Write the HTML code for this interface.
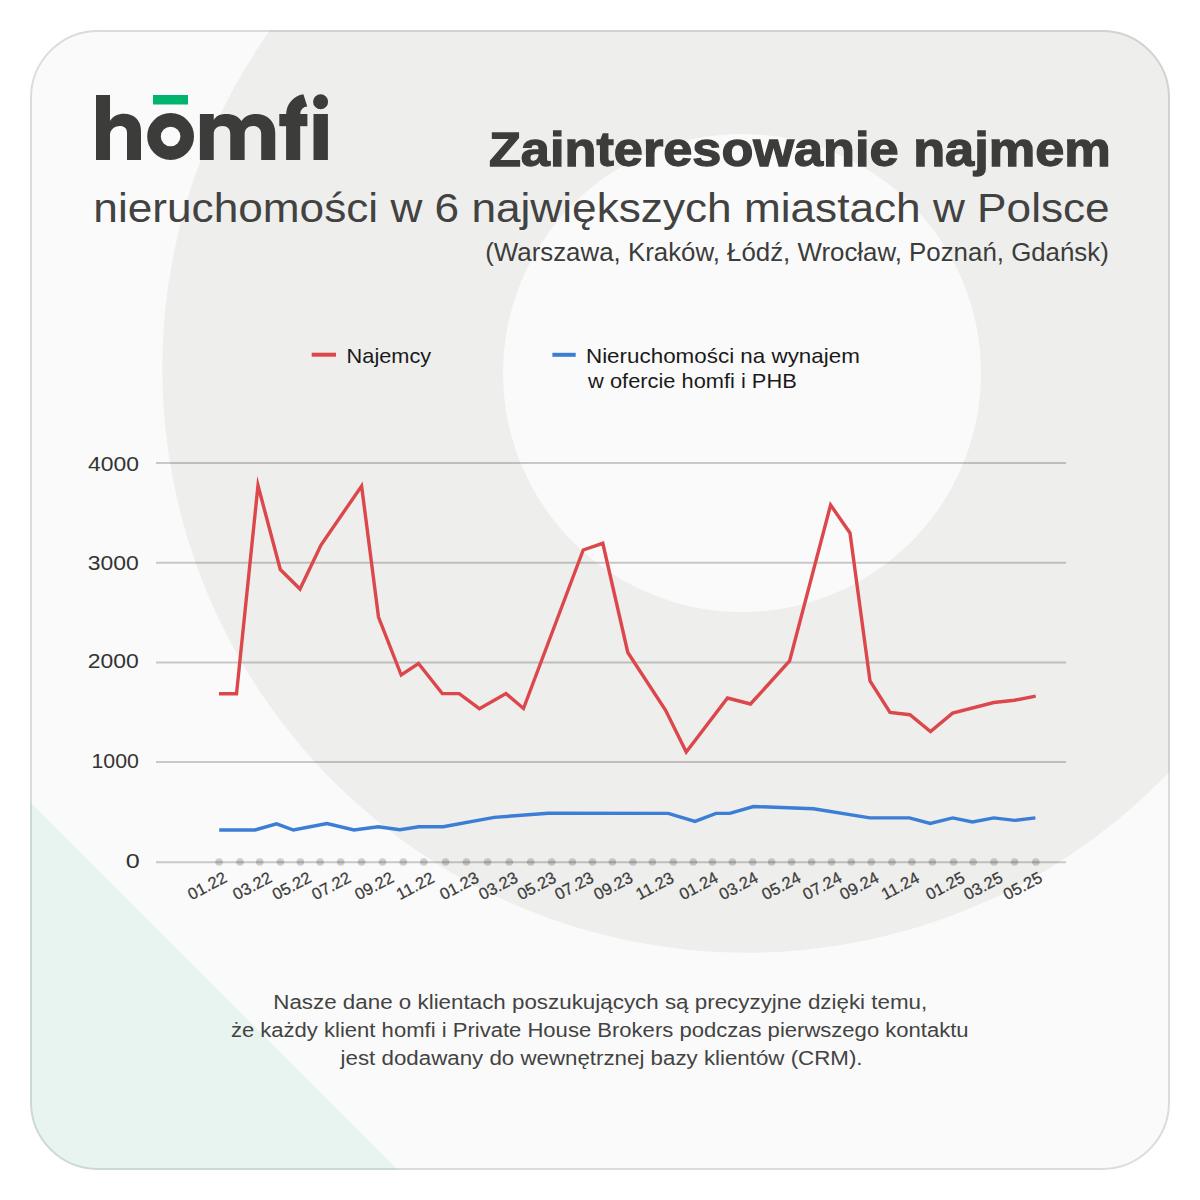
<!DOCTYPE html>
<html><head><meta charset="utf-8">
<style>
html,body{margin:0;padding:0;background:#fff;width:1200px;height:1200px;overflow:hidden}
svg{display:block}
text{font-family:"Liberation Sans",sans-serif}
</style></head><body>
<svg width="1200" height="1200" viewBox="0 0 1200 1200">
<defs>
<clipPath id="card"><rect x="30" y="30" width="1140" height="1140" rx="68" ry="68"/></clipPath>
</defs>
<rect width="1200" height="1200" fill="#ffffff"/>
<g clip-path="url(#card)">
<rect x="30" y="30" width="1140" height="1140" fill="#fafafa"/>
<circle cx="746.7" cy="368.3" r="584.4" fill="#eeeeed"/>
<circle cx="742" cy="373" r="239" fill="#fafafa"/>
</g>
<rect x="31" y="31" width="1138" height="1138" rx="67" ry="67" fill="none" stroke="#000" stroke-opacity="0.12" stroke-width="2"/>
<g clip-path="url(#card)"><polygon points="30,802 30,1170 398,1170" fill="#32bf90" fill-opacity="0.085"/></g>

<!-- logo -->
<g fill="#3c3c3b">
<path d="M96,95 H110 V121 C113,116 118,113.8 124,113.8 C134,113.8 141,120 141,131 V160 H127 V133 C127,128 124,126 120,126 C114,126 110,130 110,135 V160 H96 Z"/>
<circle cx="170.6" cy="136.5" r="16.6" fill="none" stroke="#3c3c3b" stroke-width="13.6"/>
<path d="M199.9,114 H213.75 V120 C216,116 220,114 226,114 C233,114 238.5,116.5 241.5,121 C244.5,116.5 249.5,114 256,114 C267,114 275.25,121 275.25,133 V160 H261.2 V134 C261.2,129 258,126 253,126 C248,126 244.65,129 244.65,134 V160 H230.25 V134 C230.25,129 227.5,126 222.5,126 C217,126 213.75,129 213.75,134 V160 H199.9 Z"/>
<path d="M286.1,160 V114 A20.5,20.5 0 0 1 303.4,94.2 L307.3,106.6 A7.2,7.2 0 0 0 300.2,114 V160 Z"/>
<rect x="279.3" y="114" width="28.1" height="12.2"/>
<circle cx="320.6" cy="101.7" r="7.5"/>
<rect x="313.5" y="114" width="14.4" height="46"/>
</g>
<rect x="153" y="95" width="35" height="9.5" fill="#00b46e"/>

<!-- titles -->
<text x="488.93" y="166" font-size="49" fill="#3c3c3b" textLength="621.82" lengthAdjust="spacingAndGlyphs" font-weight="bold" stroke="#3c3c3b" stroke-width="1.3">Zainteresowanie najmem</text>
<text x="93.39" y="222" font-size="40" fill="#424241" textLength="1016.31" lengthAdjust="spacingAndGlyphs" >nieruchomości w 6 największych miastach w Polsce</text>
<text x="485.23" y="261" font-size="25" fill="#3c3c3b" textLength="623.62" lengthAdjust="spacingAndGlyphs" >(Warszawa, Kraków, Łódź, Wrocław, Poznań, Gdańsk)</text>

<!-- legend -->
<rect x="311.7" y="352.7" width="24.3" height="4" fill="#dc474b"/>
<text x="346.63" y="363" font-size="21" fill="#1a1a1a" textLength="84.55" lengthAdjust="spacingAndGlyphs" >Najemcy</text>
<rect x="552.4" y="352.8" width="23.3" height="4" fill="#3c7dd6"/>
<text x="585.97" y="363" font-size="21" fill="#1a1a1a" textLength="273.93" lengthAdjust="spacingAndGlyphs" >Nieruchomości na wynajem</text>
<text x="588.1" y="387.7" font-size="21" fill="#1a1a1a" textLength="208.66" lengthAdjust="spacingAndGlyphs" >w ofercie homfi i PHB</text>

<!-- gridlines -->
<g stroke="#000" stroke-opacity="0.2" stroke-width="2">
<line x1="156" y1="463" x2="1066" y2="463"/>
<line x1="156" y1="562.8" x2="1066" y2="562.8"/>
<line x1="156" y1="662.6" x2="1066" y2="662.6"/>
<line x1="156" y1="761.9" x2="1066" y2="761.9"/>
<line x1="156" y1="862.2" x2="1066" y2="862.2"/>
</g>
<g fill="#000" fill-opacity="0.18"><circle cx="219.1" cy="862" r="3.8"/><circle cx="240" cy="862" r="3.8"/><circle cx="259.7" cy="862" r="3.8"/><circle cx="280.4" cy="862" r="3.8"/><circle cx="300.4" cy="862" r="3.8"/><circle cx="320.1" cy="862" r="3.8"/><circle cx="340.7" cy="862" r="3.8"/><circle cx="361.6" cy="862" r="3.8"/><circle cx="382.5" cy="862" r="3.8"/><circle cx="403.3" cy="862" r="3.8"/><circle cx="423.8" cy="862" r="3.8"/><circle cx="445.6" cy="862" r="3.8"/><circle cx="466.4" cy="862" r="3.8"/><circle cx="487.6" cy="862" r="3.8"/><circle cx="509.3" cy="862" r="3.8"/><circle cx="530.7" cy="862" r="3.8"/><circle cx="551.7" cy="862" r="3.8"/><circle cx="572.4" cy="862" r="3.8"/><circle cx="592.5" cy="862" r="3.8"/><circle cx="612.4" cy="862" r="3.8"/><circle cx="632.9" cy="862" r="3.8"/><circle cx="652.4" cy="862" r="3.8"/><circle cx="673.3" cy="862" r="3.8"/><circle cx="693.3" cy="862" r="3.8"/><circle cx="712.4" cy="862" r="3.8"/><circle cx="732.4" cy="862" r="3.8"/><circle cx="752.7" cy="862" r="3.8"/><circle cx="771.6" cy="862" r="3.8"/><circle cx="791.6" cy="862" r="3.8"/><circle cx="811.6" cy="862" r="3.8"/><circle cx="831.6" cy="862" r="3.8"/><circle cx="851.3" cy="862" r="3.8"/><circle cx="871.3" cy="862" r="3.8"/><circle cx="892" cy="862" r="3.8"/><circle cx="911.9" cy="862" r="3.8"/><circle cx="932.4" cy="862" r="3.8"/><circle cx="953.6" cy="862" r="3.8"/><circle cx="973.2" cy="862" r="3.8"/><circle cx="994" cy="862" r="3.8"/><circle cx="1014.6" cy="862" r="3.8"/><circle cx="1035.8" cy="862" r="3.8"/></g>
<g>
<text x="88.0" y="471" font-size="20" fill="#333333" textLength="50.87" lengthAdjust="spacingAndGlyphs" >4000</text>
<text x="87.85" y="570" font-size="20" fill="#333333" textLength="51.02" lengthAdjust="spacingAndGlyphs" >3000</text>
<text x="87.85" y="668" font-size="20" fill="#333333" textLength="51.02" lengthAdjust="spacingAndGlyphs" >2000</text>
<text x="91.47" y="768" font-size="20" fill="#333333" textLength="47.36" lengthAdjust="spacingAndGlyphs" >1000</text>
<text x="125.74" y="868" font-size="20" fill="#333333" textLength="13.97" lengthAdjust="spacingAndGlyphs" >0</text>
</g>
<polyline points="219.2,830 255,830 276.6,823.8 293.4,830 327,823.6 354,830 378.2,826.7 399.9,829.7 418.8,826.7 443.2,826.7 494.2,817.4 548.3,813.2 668.3,813.4 695,821.4 716,813.4 729.7,813.4 753.5,806.5 813.5,808.7 869.8,817.9 909.4,817.9 930.2,823.5 952.7,817.9 972.5,822 993.75,817.9 1014.6,820.4 1035.4,817.9" fill="none" stroke="#3c7dd6" stroke-width="3.4" stroke-linejoin="miter" stroke-miterlimit="10"/>
<polyline points="219,693.8 236.5,693.8 258,485.5 280.3,569.5 300,589 321,545 361.6,486 378.5,617 401.2,675 418.5,663.5 442.3,693.6 459.2,693.6 479.4,708.7 506,693.6 523.5,708.5 583.2,550 602.8,543.3 627.8,652.5 665.6,710.25 686.25,752 727.5,698 750.5,704 789.6,661 830.6,505 850,533 870,681 890,712.5 909.9,714.7 930.5,731.5 952.6,713.1 993.8,702.5 1014.4,700.2 1035.7,696.2" fill="none" stroke="#dc474b" stroke-width="3.4" stroke-linejoin="miter" stroke-miterlimit="10"/>
<g font-size="16.5" fill="#3c3c3b" stroke="#3c3c3b" stroke-width="0.25" text-anchor="middle" dominant-baseline="central"><text x="207" y="885.5" transform="rotate(-28 207 885.5)">01.22</text><text x="252" y="885.5" transform="rotate(-28 252 885.5)">03.22</text><text x="291.5" y="885.5" transform="rotate(-28 291.5 885.5)">05.22</text><text x="331" y="885.5" transform="rotate(-28 331 885.5)">07.22</text><text x="374" y="885.5" transform="rotate(-28 374 885.5)">09.22</text><text x="415" y="885.5" transform="rotate(-28 415 885.5)">11.22</text><text x="459" y="885.5" transform="rotate(-28 459 885.5)">01.23</text><text x="498" y="885.5" transform="rotate(-28 498 885.5)">03.23</text><text x="536.4" y="885.5" transform="rotate(-28 536.4 885.5)">05.23</text><text x="573.9" y="885.5" transform="rotate(-28 573.9 885.5)">07.23</text><text x="613" y="885.5" transform="rotate(-28 613 885.5)">09.23</text><text x="654.5" y="885.5" transform="rotate(-28 654.5 885.5)">11.23</text><text x="698.3" y="885.5" transform="rotate(-28 698.3 885.5)">01.24</text><text x="738.2" y="885.5" transform="rotate(-28 738.2 885.5)">03.24</text><text x="781" y="885.5" transform="rotate(-28 781 885.5)">05.24</text><text x="822" y="885.5" transform="rotate(-28 822 885.5)">07.24</text><text x="859" y="885.5" transform="rotate(-28 859 885.5)">09.24</text><text x="900" y="885.5" transform="rotate(-28 900 885.5)">11.24</text><text x="945" y="885.5" transform="rotate(-28 945 885.5)">01.25</text><text x="983" y="885.5" transform="rotate(-28 983 885.5)">03.25</text><text x="1022.5" y="885.5" transform="rotate(-28 1022.5 885.5)">05.25</text></g>

<!-- footer -->
<text x="273.26" y="1009.25" font-size="20" fill="#434342" textLength="653.99" lengthAdjust="spacingAndGlyphs" >Nasze dane o klientach poszukujących są precyzyjne dzięki temu,</text>
<text x="230.9" y="1037" font-size="20" fill="#434342" textLength="737.73" lengthAdjust="spacingAndGlyphs" >że każdy klient homfi i Private House Brokers podczas pierwszego kontaktu</text>
<text x="340.62" y="1065" font-size="20" fill="#434342" textLength="521.9" lengthAdjust="spacingAndGlyphs" >jest dodawany do wewnętrznej bazy klientów (CRM).</text>
</svg>
</body></html>
